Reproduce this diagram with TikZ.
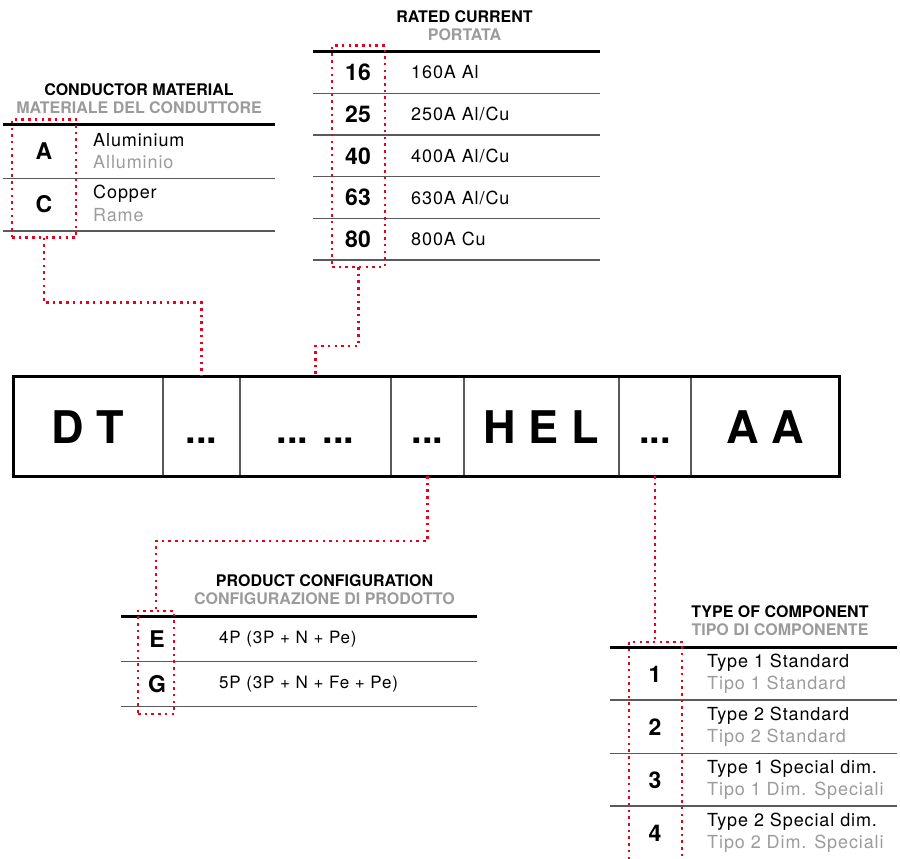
\documentclass[tikz,border=0pt]{standalone}
\usepackage{fontspec}
\setmainfont{TeX Gyre Heros}
\newfontfamily\widefont[LetterSpace=5]{TeX Gyre Heros}
\usetikzlibrary{positioning}
\definecolor{selred}{RGB}{232,0,28}
\definecolor{softgray}{RGB}{155,155,155}
\definecolor{rulegray}{RGB}{90,90,90}

\begin{document}
\begin{tikzpicture}[x=1pt, y=-1pt,
  cell/.style={draw=rulegray, line width=1.2pt, minimum height=100pt, inner sep=0pt, outer sep=0pt, text height=34pt, text depth=0pt},
  big/.style={cell, font=\bfseries\fontsize{45}{45}\selectfont},
  dots/.style={cell, font=\bfseries\fontsize{38}{38}\selectfont},
  head/.style={inner sep=0pt, font=\bfseries\fontsize{16}{16}\selectfont},
  subhead/.style={head, text=softgray},
  code/.style={inner sep=0pt, font=\bfseries\fontsize{23}{23}\selectfont},
  desc/.style={anchor=west, inner sep=0pt, font=\widefont\fontsize{18}{18}\selectfont},
  subdesc/.style={desc, text=softgray},
  toprule/.style={line width=3pt},
  rowrule/.style={draw=rulegray, line width=1.3pt},
  sel/.style={draw=selred, line width=2.5pt, dash pattern=on 2.5pt off 4.2pt},
  selbox/.style={sel, inner sep=0pt, outer sep=0pt}]

\useasboundingbox (0,0) rectangle (900,859);

% code bar
\node[big, minimum width=150pt] (dt) at (88,426) {D T\hspace{11pt}};
\node[dots, minimum width=77pt, right=0pt of dt] (mat) {...};
\node[dots, minimum width=151pt, right=0pt of mat] (cur) {... ...};
\node[dots, minimum width=73pt, right=0pt of cur] (cfg) {...};
\node[big, minimum width=155pt, right=0pt of cfg] (hel) {H E L};
\node[dots, minimum width=72pt, right=0pt of hel] (typ) {...};
\node[big, minimum width=148pt, right=0pt of typ] (aa) {A A\hspace{9pt}};
\draw[line width=3pt] (dt.north west) rectangle (aa.south east);

% conductor material
\node[head] (matH) at (139,90) {CONDUCTOR MATERIAL};
\node[subhead] (matS) at (139,108) {MATERIALE DEL CONDUTTORE};
\draw[toprule] (3,124.3) -- (275,124.3);
\foreach \y in {178.3,231} \draw[rowrule] (3,\y) -- (275,\y);
\foreach \c/\en/\it [count=\i] in {A/Aluminium/Alluminio, C/Copper/Rame}{
  \node[code] (mat\c) at (44,97.7+53.3*\i) {\c};
  \node[subdesc] (matI\i) at (93,108.7+53.3*\i) {\it};
  \node[desc] (matE\i) at (93,86.7+53.3*\i) {\en};
}
\node[selbox, minimum width=64pt, minimum height=118.4pt] (selA) at (44,178.5) {};

% rated current
\node[head] (curH) at (464.5,17) {RATED CURRENT};
\node[subhead] (curS) at (464.5,35) {PORTATA};
\draw[toprule] (313,51.7) -- (600,51.7);
\foreach \y in {93.7,135,176.7,218.7,260} \draw[rowrule] (313,\y) -- (600,\y);
\foreach \c/\t [count=\i] in {16/{160A Al}, 25/{250A Al/Cu}, 40/{400A Al/Cu}, 63/{630A Al/Cu}, 80/{800A Cu}}{
  \node[code] (cur\c) at (358,30.8+41.7*\i) {\c};
  \node[desc] (curT\i) at (411,30.8+41.7*\i) {\t};
}
\node[selbox, minimum width=53pt, minimum height=221.3pt] (selR) at (358.5,156.4) {};

% product configuration
\node[head] (cfgH) at (324.5,581) {PRODUCT CONFIGURATION};
\node[subhead] (cfgS) at (324.5,599) {CONFIGURAZIONE DI PRODOTTO};
\draw[toprule] (121,616.7) -- (476.5,616.7);
\foreach \y in {661.7,706.7} \draw[rowrule] (121,\y) -- (476.5,\y);
\foreach \c/\t [count=\i] in {E/{4P (3P + N + Pe)}, G/{5P (3P + N + Fe + Pe)}}{
  \node[code] (cfg\c) at (157,594.2+45*\i) {\c};
  \node[desc, font=\widefont\fontsize{17}{17}\selectfont] (cfgT\i) at (219,594.2+45*\i) {\t};
}
\node[selbox, minimum width=36pt, minimum height=103.3pt] (selP) at (156,662.4) {};

% type of component
\node[head] (typH) at (780,612) {TYPE OF COMPONENT};
\node[subhead] (typS) at (780,630) {TIPO DI COMPONENTE};
\draw[toprule] (610,647.7) -- (897,647.7);
\foreach \y in {700,753.3,806} \draw[rowrule] (610,\y) -- (897,\y);
\foreach \n/\en/\it [count=\i] in {1/Type 1 Standard/Tipo 1 Standard, 2/Type 2 Standard/Tipo 2 Standard,
  3/Type 1 Special dim./Tipo 1 Dim. Speciali, 4/Type 2 Special dim./Tipo 2 Dim. Speciali}{
  \node[code] (typ\n) at (655,621+53*\i) {\n};
  \node[subdesc] (typI\i) at (707,632+53*\i) {\it};
  \node[desc] (typE\i) at (707,610+53*\i) {\en};
}
\node[inner sep=0pt, outer sep=0pt, minimum width=53pt, minimum height=217.3pt] (selT) at (655.5,750.4) {};
\draw[sel] (selT.south west) |- (selT.north) -| (selT.south east);

% connectors
\draw[sel] (selA.south) -- ++(0,65) -| (mat.north);
\draw[sel] (selR.south) -- ++(0,79) -| (cur.north);
\draw[sel] (cfg.south) -- ++(0,65) -| (selP.north);
\draw[sel] (typ.south) -- (typ.south |- selT.north);

\end{tikzpicture}
\end{document}
